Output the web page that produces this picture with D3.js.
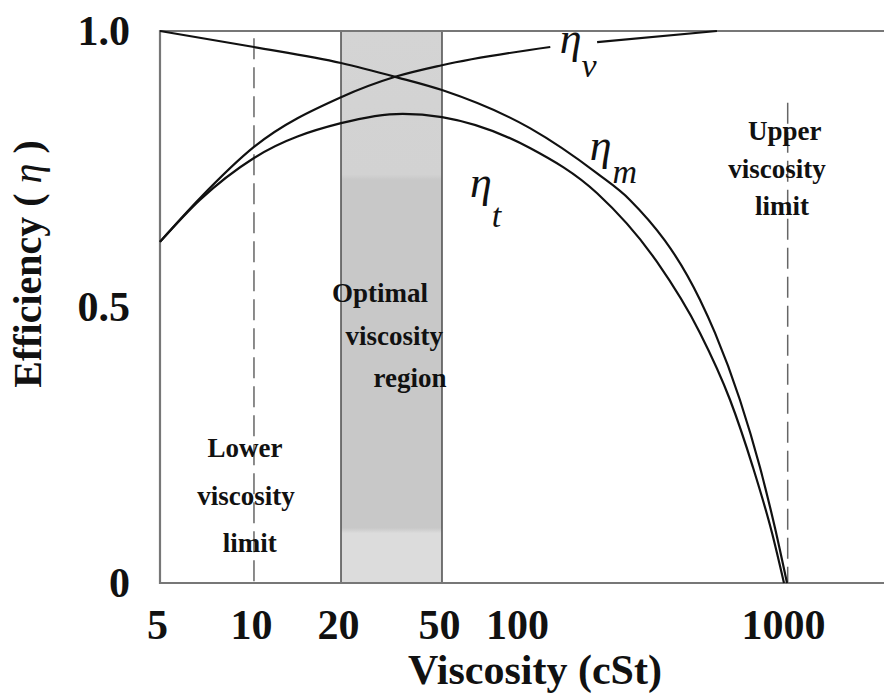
<!DOCTYPE html>
<html>
<head>
<meta charset="utf-8">
<script src="https://cdn.jsdelivr.net/npm/d3@7"></script>
<style>
  body { margin: 0; background: #fff; }
  svg { display: block; }
  text { font-family: "Liberation Serif", "Times New Roman", serif; fill: #111; }
</style>
</head>
<body>
<figure id="chart" style="margin:0"></figure>
<script>
// x ticks (viscosity, cSt) and y ticks (efficiency)
const xTicks = [5, 10, 20, 50, 100, 1000];
const yTicks = [0, 0.5, 1.0];

// mechanical efficiency eta_m
const viscM = [5, 10, 20, 32.7, 50, 109, 195, 259, 475, 541, 671, 798, 909, 1009];
const etaM  = [1.0, 0.971, 0.942, 0.917, 0.893, 0.824, 0.742, 0.694, 0.513, 0.453, 0.332, 0.210, 0.100, 0];

// volumetric efficiency eta_v (broken where the label sits)
const viscV = [5, 6.71, 10, 20, 32.7, 50, 130, 195, 550];
const etaV  = [0.618, 0.697, 0.790, 0.880, 0.917, 0.938, 0.971, 0.980, 1.0];
const gapV  = [130, 195];

// total efficiency eta_t
const viscT = [5, 6.71, 10, 20, 35, 50, 109, 195, 327, 475, 616, 751, 886, 983];
const etaT  = [0.618, 0.694, 0.770, 0.833, 0.850, 0.844, 0.788, 0.706, 0.582, 0.453, 0.332, 0.210, 0.091, 0];

// regions / limits
const optimalRange = [20, 50];
const lowerLimit = 10;
const upperLimit = 1015;

// set the dimensions and margins of the graph
const margin = {top: 31, right: 0, bottom: 111, left: 160},
  width = 884 - margin.left - margin.right,
  height = 694 - margin.top - margin.bottom;

const svg = d3.select("figure#chart")
  .append("svg")
  .attr("width", width + margin.left + margin.right)
  .attr("height", height + margin.top + margin.bottom)
  .append("g")
  .attr("transform", "translate(" + margin.left + "," + margin.top + ")");

// the printed axis is not a clean log axis, so use a piecewise log scale
const x = d3.scaleLog()
  .domain([5, 10, 20, 50, 100, 1000, 2335])
  .range([0, 0.1298, 0.25, 0.3895, 0.4972, 0.8646, 1].map(f => f * width));

const y = d3.scaleLinear()
  .domain([0, 1])
  .range([height, 0]);

// shaded optimal region
const defs = svg.append("defs");
const grad = defs.append("linearGradient")
  .attr("id", "shade").attr("x1", 0).attr("y1", 0).attr("x2", 0).attr("y2", 1);
[[0, "#d4d4d4"], [0.26, "#d2d2d2"], [0.27, "#c8c8c8"], [0.9, "#c8c8c8"], [0.91, "#dcdcdc"], [1, "#dcdcdc"]]
  .forEach(s => grad.append("stop").attr("offset", s[0]).attr("stop-color", s[1]));

svg.append("rect")
  .attr("x", x(optimalRange[0]))
  .attr("y", y(1))
  .attr("width", x(optimalRange[1]) - x(optimalRange[0]))
  .attr("height", y(0) - y(1))
  .attr("fill", "url(#shade)");

svg.selectAll(".edge")
  .data(optimalRange)
  .join("line")
  .attr("x1", d => x(d)).attr("x2", d => x(d))
  .attr("y1", y(1)).attr("y2", y(0))
  .attr("stroke", "#555").attr("stroke-width", 1.6);

// frame: top, left, bottom
svg.append("path")
  .attr("d", `M${width},${y(1)}H0V${y(0)}H${width}`)
  .attr("fill", "none")
  .attr("stroke", "#777")
  .attr("stroke-width", 2.2);

// dashed viscosity limits
svg.append("line")
  .attr("x1", x(lowerLimit)).attr("x2", x(lowerLimit))
  .attr("y1", y(0.987)).attr("y2", y(0))
  .attr("stroke", "#666").attr("stroke-width", 1.5)
  .attr("stroke-dasharray", "21,8");
svg.append("line")
  .attr("x1", x(upperLimit)).attr("x2", x(upperLimit))
  .attr("y1", y(0.87)).attr("y2", y(0))
  .attr("stroke", "#666").attr("stroke-width", 1.5)
  .attr("stroke-dasharray", "21,8");

// curves
const line = d3.line()
  .x(d => x(d[0]))
  .y(d => y(d[1]))
  .curve(d3.curveMonotoneX);

const seriesM = viscM.map((v, i) => [v, etaM[i]]);
const seriesT = viscT.map((v, i) => [v, etaT[i]]);
const seriesV = viscV.map((v, i) => [v, etaV[i]]);
const segsV = [seriesV.filter(d => d[0] <= gapV[0]), seriesV.filter(d => d[0] >= gapV[1])];

[seriesM, seriesT, ...segsV].forEach(s => {
  svg.append("path")
    .datum(s)
    .attr("d", line)
    .attr("fill", "none")
    .attr("stroke", "#111")
    .attr("stroke-width", 2.2);
});

// Add X axis
const xAxis = svg.append("g")
  .attr("transform", `translate(0, ${height})`)
  .call(d3.axisBottom(x).tickValues(xTicks).tickFormat(d3.format("d")).tickSize(0).tickPadding(26));
xAxis.select(".domain").remove();
xAxis.selectAll("text")
  .attr("dx", "-0.07em")
  .style("font-family", "'Liberation Serif', serif")
  .style("font-size", "42px")
  .style("font-weight", "bold")
  .style("fill", "#111");

// Add Y axis
const yAxis = svg.append("g")
  .call(d3.axisLeft(y).tickValues(yTicks).tickFormat(d => d === 0 ? "0" : d3.format(".1f")(d)).tickSize(0).tickPadding(30));
yAxis.select(".domain").remove();
yAxis.selectAll("text")
  .style("font-family", "'Liberation Serif', serif")
  .style("font-size", "42px")
  .style("font-weight", "bold")
  .style("fill", "#111");

// axis titles
svg.append("text")
  .attr("x", 375)
  .attr("y", height + 101)
  .attr("text-anchor", "middle")
  .style("font-size", "42px")
  .style("font-weight", "bold")
  .text("Viscosity (cSt)");

const yTitle = svg.append("text")
  .attr("transform", `translate(${41 - margin.left}, ${264 - margin.top}) rotate(-90)`)
  .attr("text-anchor", "middle")
  .style("font-size", "40px")
  .style("font-weight", "bold");
yTitle.append("tspan").text("Efficiency ( ");
yTitle.append("tspan").style("font-weight", "normal").style("font-style", "italic").text("η");
yTitle.append("tspan").text(" )");

// region annotations
const notes = [
  {t: "Optimal", v: 28.5, e: 0.509}, {t: "viscosity", v: 32.4, e: 0.431}, {t: "region", v: 37.4, e: 0.355},
  {t: "Lower", v: 9.36, e: 0.228}, {t: "viscosity", v: 9.43, e: 0.141}, {t: "limit", v: 9.7, e: 0.056},
  {t: "Upper", v: 990, e: 0.803}, {t: "viscosity", v: 925, e: 0.734}, {t: "limit", v: 966, e: 0.667}
];
svg.selectAll(".note")
  .data(notes)
  .join("text")
  .attr("x", d => x(d.v))
  .attr("y", d => y(d.e))
  .attr("text-anchor", "middle")
  .style("font-size", "27px")
  .style("font-weight", "bold")
  .text(d => d.t);

// curve labels
const etaLabels = [
  {sub: "v", v: 141, e: 0.960, dy: 24, dx: 0},
  {sub: "m", v: 183, e: 0.766, dy: 23, dx: 1},
  {sub: "t", v: 64.1, e: 0.699, dy: 30, dx: 0}
];
etaLabels.forEach(d => {
  const t = svg.append("text")
    .attr("x", x(d.v))
    .attr("y", y(d.e))
    .style("font-style", "italic")
    .style("font-size", "44px");
  t.append("tspan").text("η");
  t.append("tspan")
    .attr("dx", d.dx)
    .attr("dy", d.dy)
    .style("font-size", "34px")
    .text(d.sub);
});
</script>
</body>
</html>
